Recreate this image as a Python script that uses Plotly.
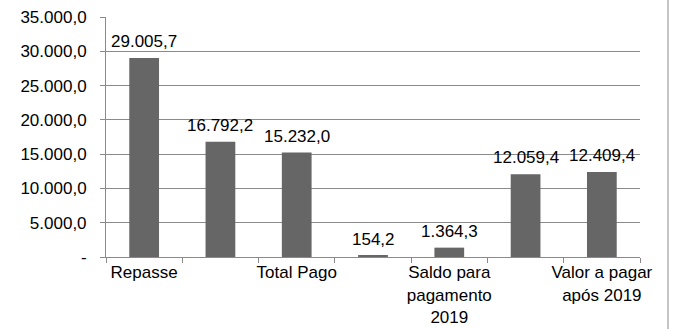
import plotly.graph_objects as go

# Chart data
categories = ["Repasse", "", "Total Pago", "", "Saldo para<br>pagamento<br>2019", "", "Valor a pagar<br>após 2019"]
values = [29005.7, 16792.2, 15232.0, 154.2, 1364.3, 12059.4, 12409.4]
y_tick_values = [0, 5000, 10000, 15000, 20000, 25000, 30000, 35000]
y_tick_labels = ["-", "5.000,0", "10.000,0", "15.000,0", "20.000,0", "25.000,0", "30.000,0", "35.000,0"]

positions = list(range(len(categories)))
boundaries = [p - 0.5 for p in positions] + [positions[-1] + 0.5]

FONT = "Liberation Sans, Arial, sans-serif"
GRID = "#8a8a8a"
BAR = "#666666"


def fmt_br(v):
    # Brazilian number format: thousands ".", decimal ","
    return f"{v:,.1f}".replace(",", "X").replace(".", ",").replace("X", ".")


fig = go.Figure()
fig.add_trace(go.Bar(
    x=positions,
    y=values,
    width=0.39,
    marker=dict(color=BAR, line=dict(width=0)),
    hoverinfo="skip",
))
# invisible trace carrying the boundary tick axis
fig.add_trace(go.Scatter(x=[boundaries[0]], y=[0], xaxis="x2", mode="markers",
                         marker=dict(opacity=0), showlegend=False, hoverinfo="skip"))

# value labels above each bar
annotations = [
    dict(x=p, y=v, xref="x", yref="y", text=fmt_br(v), showarrow=False,
         xanchor="center", yanchor="bottom", yshift=5,
         font=dict(family=FONT, size=17, color="#000000"))
    for p, v in zip(positions, values)
]

fig.update_layout(
    width=673, height=329,
    margin=dict(l=106, r=33, t=17, b=72, autoexpand=False),
    paper_bgcolor="white", plot_bgcolor="white",
    separators=",.",
    showlegend=False,
    font=dict(family=FONT, size=17, color="#000000"),
    annotations=annotations,
    xaxis=dict(
        range=[boundaries[0], boundaries[-1]],
        tickvals=positions, ticktext=categories,
        ticks="", showgrid=False, zeroline=False, automargin=False,
        showline=True, linecolor=GRID, linewidth=1,
        tickfont=dict(family=FONT, size=17, color="#000000"),
    ),
    xaxis2=dict(
        range=[boundaries[0], boundaries[-1]],
        overlaying="x", anchor="y", side="bottom",
        tickvals=boundaries, showticklabels=False, automargin=False,
        ticks="outside", ticklen=5, tickcolor=GRID, tickwidth=1,
        showgrid=False, zeroline=False, showline=False,
    ),
    yaxis=dict(
        range=[0, 35000],
        tickvals=y_tick_values, ticktext=y_tick_labels,
        ticks="outside", ticklen=5, tickcolor=GRID, tickwidth=1,
        showgrid=True, gridcolor=GRID, gridwidth=1, automargin=False,
        zeroline=False, showline=True, linecolor=GRID, linewidth=1,
        ticklabelstandoff=10,
        tickfont=dict(family=FONT, size=17, color="#000000"),
    ),
    shapes=[dict(type="line", xref="paper", yref="paper",
                 x0=(668 - 106) / 534, x1=(668 - 106) / 534,
                 y0=-72 / 240, y1=1 + 17 / 240,
                 line=dict(color=GRID, width=1))],
)

fig.write_html("out.html")
